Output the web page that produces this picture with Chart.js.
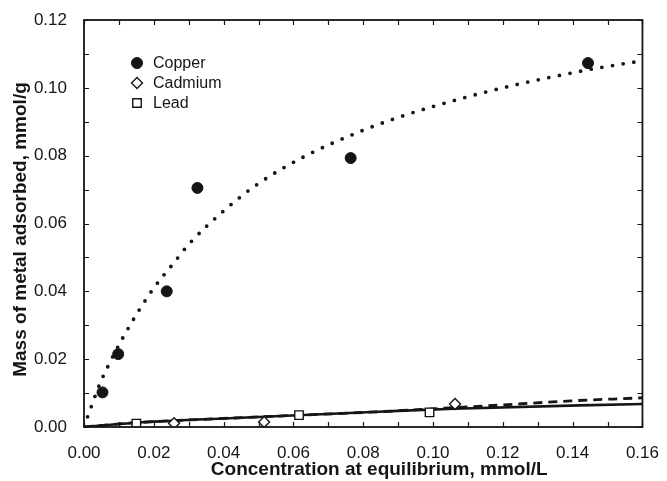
<!DOCTYPE html>
<html>
<head>
<meta charset="utf-8">
<script src="https://cdn.jsdelivr.net/npm/chart.js@4.4.0/dist/chart.umd.min.js"></script>
<style>
  html, body { margin: 0; padding: 0; background: #ffffff; }
</style>
</head>
<body>
<canvas id="myChart" width="667" height="481"></canvas>
<script>
  // measured points (mmol/L, mmol/g)
  let copperX = [0.0053, 0.0098, 0.0237, 0.0325, 0.0764, 0.1444];
  let copperY = [0.0102, 0.0215, 0.0400, 0.0705, 0.0793, 0.1073];
  let cadmiumX = [0.0258, 0.0516, 0.1063];
  let cadmiumY = [0.0011, 0.0015, 0.0068];
  let leadX = [0.0150, 0.0616, 0.0990];
  let leadY = [0.0010, 0.0035, 0.0043];

  // fitted curves
  let copperFitX = [0, 0.0011, 0.0046, 0.0074, 0.0108, 0.016, 0.0203, 0.0252, 0.0304, 0.040, 0.050, 0.064, 0.080, 0.0887, 0.100, 0.120, 0.1438, 0.160];
  let copperFitY = [0, 0.0032, 0.0129, 0.0190, 0.0257, 0.0348, 0.0414, 0.0477, 0.0543, 0.0637, 0.0718, 0.0802, 0.0875, 0.0908, 0.0945, 0.1000, 0.1052, 0.1080];
  let cadmiumFitX = [0, 0.014, 0.0417, 0.0844, 0.106, 0.1215, 0.1395, 0.160];
  let cadmiumFitY = [0, 0.0012, 0.0026, 0.0045, 0.0057, 0.0066, 0.0077, 0.0086];
  let leadFitX = [0, 0.014, 0.0417, 0.0844, 0.106, 0.160];
  let leadFitY = [0, 0.0012, 0.0026, 0.0045, 0.0054, 0.0068];

  let xTicks = [0, 0.02, 0.04, 0.06, 0.08, 0.10, 0.12, 0.14, 0.16];
  let yTicks = [0, 0.02, 0.04, 0.06, 0.08, 0.10, 0.12];
  let xMinor = [0.01, 0.03, 0.05, 0.07, 0.09, 0.11, 0.13, 0.15];
  let yMinor = [0.01, 0.03, 0.05, 0.07, 0.09, 0.11];

  let xTitle = 'Concentration at equilibrium, mmol/L';
  let yTitle = 'Mass of metal adsorbed, mmol/g';

  const ink = '#151515';
  const fontFamily = '"Liberation Sans", Arial, sans-serif';

  function pts(xs, ys) {
      return xs.map((x, i) => ({ x: x, y: ys[i] }));
  }

  // frame with small inward ticks on all four sides, plus the axis titles
  const frameTicks = {
      id: 'frameTicks',
      afterDatasetsDraw(chart) {
          const { ctx, chartArea: a, scales: { x, y } } = chart;
          ctx.save();
          ctx.strokeStyle = ink;
          ctx.lineWidth = 1.2;
          ctx.beginPath();
          xTicks.concat(xMinor).forEach(v => {
              const px = Math.round(x.getPixelForValue(v)) + 0.5;
              ctx.moveTo(px, a.bottom); ctx.lineTo(px, a.bottom - 5);
              ctx.moveTo(px, a.top); ctx.lineTo(px, a.top + 5);
          });
          yTicks.concat(yMinor).forEach(v => {
              const py = Math.round(y.getPixelForValue(v)) + 0.5;
              ctx.moveTo(a.left, py); ctx.lineTo(a.left + 5, py);
              ctx.moveTo(a.right, py); ctx.lineTo(a.right - 5, py);
          });
          ctx.stroke();
          ctx.lineWidth = 1.8;
          ctx.strokeRect(a.left, a.top, a.right - a.left, a.bottom - a.top);

          // titles sit a bit off-centre in the original
          ctx.fillStyle = ink;
          ctx.font = 'bold 19px ' + fontFamily;
          ctx.textAlign = 'center';
          ctx.textBaseline = 'middle';
          ctx.fillText(xTitle, (a.left + a.right) / 2 + 16, 470);
          ctx.translate(21, (a.top + a.bottom) / 2 + 6);
          ctx.rotate(-Math.PI / 2);
          ctx.fillText(yTitle, 0, 0);
          ctx.restore();
      }
  };

  // legend drawn inside the plot, top left
  const innerLegend = {
      id: 'innerLegend',
      afterDraw(chart) {
          const { ctx, chartArea: a } = chart;
          ctx.save();
          ctx.font = '16px ' + fontFamily;
          ctx.textBaseline = 'middle';
          let row = 0;
          chart.data.datasets.forEach(ds => {
              if (!ds.inLegend) return;
              const mx = a.left + 53, my = a.top + 43 + row * 20;
              ctx.fillStyle = ds.backgroundColor;
              ctx.strokeStyle = ds.borderColor;
              ctx.lineWidth = ds.pointBorderWidth;
              Chart.helpers.drawPoint(ctx, {
                  pointStyle: ds.pointStyle,
                  radius: ds.pointRadius,
                  rotation: 0,
                  borderWidth: ds.pointBorderWidth
              }, mx, my);
              ctx.fillStyle = ink;
              ctx.fillText(ds.label, mx + 16, my + 1);
              row++;
          });
          ctx.restore();
      }
  };

  let ctx = document.getElementById('myChart').getContext('2d');
  let myChart = new Chart(ctx, {
      type: 'scatter',
      data: {
          datasets: [
              {
                  label: 'Copper', inLegend: true,
                  data: pts(copperX, copperY),
                  pointStyle: 'circle', pointRadius: 5.5, pointBorderWidth: 1,
                  backgroundColor: ink, borderColor: ink
              },
              {
                  label: 'Cadmium', inLegend: true,
                  data: pts(cadmiumX, cadmiumY),
                  pointStyle: 'rectRot', pointRadius: 5.5, pointBorderWidth: 1.4,
                  backgroundColor: '#ffffff', borderColor: ink
              },
              {
                  label: 'Lead', inLegend: true,
                  data: pts(leadX, leadY),
                  pointStyle: 'rect', pointRadius: 6, pointBorderWidth: 1.4,
                  backgroundColor: '#ffffff', borderColor: ink
              },
              {
                  label: 'Copper fit',
                  data: pts(copperFitX, copperFitY),
                  showLine: true, pointRadius: 0,
                  borderColor: ink, borderWidth: 3.8,
                  borderDash: [0, 10.8], borderCapStyle: 'round',
                  cubicInterpolationMode: 'monotone'
              },
              {
                  label: 'Cadmium fit',
                  data: pts(cadmiumFitX, cadmiumFitY),
                  showLine: true, pointRadius: 0,
                  borderColor: ink, borderWidth: 2.8,
                  borderDash: [9, 6],
                  cubicInterpolationMode: 'monotone'
              },
              {
                  label: 'Lead fit',
                  data: pts(leadFitX, leadFitY),
                  showLine: true, pointRadius: 0,
                  borderColor: ink, borderWidth: 2.6,
                  cubicInterpolationMode: 'monotone'
              }
          ]
      },
      options: {
          responsive: false,
          animation: false,
          layout: { padding: { top: 20, right: 22, left: 0, bottom: 0 } },
          plugins: {
              legend: { display: false },
              tooltip: { enabled: false }
          },
          scales: {
              x: {
                  type: 'linear', min: 0, max: 0.16,
                  afterFit: s => { s.height = 54; },
                  afterBuildTicks: s => { s.ticks = xTicks.map(v => ({ value: v })); },
                  grid: { display: false },
                  border: { display: false },
                  ticks: {
                      color: ink, padding: 8,
                      font: { family: fontFamily, size: 17 },
                      maxRotation: 0,
                      callback: v => v.toFixed(2)
                  }
              },
              y: {
                  type: 'linear', min: 0, max: 0.12,
                  afterFit: s => { s.width = 84; },
                  afterBuildTicks: s => { s.ticks = yTicks.map(v => ({ value: v })); },
                  grid: { display: false },
                  border: { display: false },
                  ticks: {
                      color: ink, padding: 9,
                      font: { family: fontFamily, size: 17 },
                      callback: v => v.toFixed(2)
                  }
              }
          }
      },
      plugins: [frameTicks, innerLegend]
  });
</script>
</body>
</html>
